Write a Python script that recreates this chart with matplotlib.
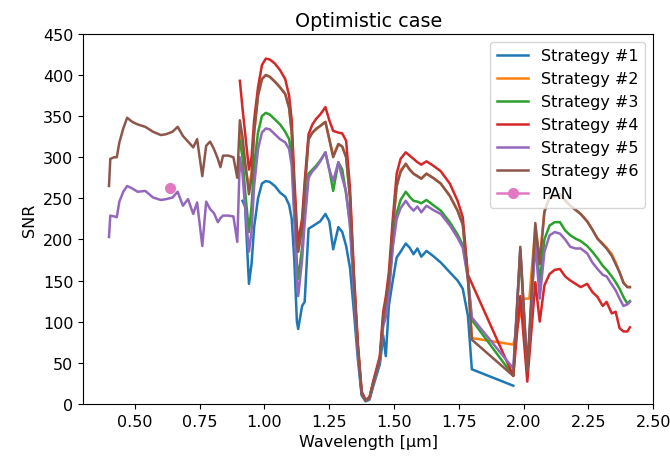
import numpy as np
import matplotlib
matplotlib.use("Agg")
import matplotlib.pyplot as plt

plt.rcParams["font.size"] = 11.5

N = np.nan

# VNIR wavelengths (only strategies #5 and #6 cover them)
wl_vnir = [0.400, 0.405, 0.420, 0.430, 0.440, 0.455, 0.470, 0.490, 0.510, 0.540,
           0.570, 0.600, 0.620, 0.645, 0.665, 0.685, 0.705, 0.725, 0.740, 0.760,
           0.775, 0.790, 0.805, 0.820, 0.830, 0.840, 0.860, 0.880, 0.895]
s5_vnir = [203, 229, 228, 227, 246, 258, 265, 262, 258, 259,
           251, 248, 249, 251, 258, 241, 249, 231, 245, 192,
           246, 237, 232, 221, 226, 229, 229, 228, 197]
s6_vnir = [265, 298, 300, 300, 318, 335, 348, 343, 340, 337,
           331, 327, 328, 331, 337, 326, 319, 312, 322, 277,
           314, 319, 310, 298, 288, 302, 302, 300, 275]

# SWIR wavelengths
wl_swir = [0.905, 0.915, 0.925, 0.940, 0.950, 0.960, 0.975, 0.990, 1.005, 1.020,
           1.040, 1.060, 1.080, 1.095, 1.105, 1.115, 1.125, 1.130, 1.145, 1.155,
           1.170, 1.185, 1.200, 1.215, 1.235, 1.250, 1.265, 1.285, 1.300, 1.315,
           1.330, 1.345, 1.360, 1.375, 1.390, 1.405, 1.420, 1.445, 1.458, 1.468,
           1.480, 1.495, 1.510, 1.525, 1.545, 1.560, 1.575, 1.590, 1.605, 1.625,
           1.650, 1.680, 1.715, 1.745, 1.765, 1.785, 1.800,
           1.960, 1.987, 2.000, 2.014, 2.022, 2.045, 2.062, 2.080, 2.100, 2.120,
           2.140, 2.160, 2.180, 2.200, 2.220, 2.245, 2.265, 2.285, 2.305, 2.320,
           2.340, 2.355, 2.370, 2.385, 2.400, 2.410]

s1 = [N, 247, 240, 146, 170, 215, 250, 268, 271, 270,
      265, 257, 252, 242, 225, 175, 100, 91, 119, 124,
      213, 216, 219, 222, 231, 222, 188, 215, 209, 192,
      165, 112, 55, 10, 3, 5, 22, 48, 83, 58,
      120, 150, 178, 185, 195, 190, 182, 189, 179, 186,
      180, 172, 160, 150, 140, 107, 42,
      22, N, N, N, N, N, N, N, N, N,
      N, N, N, N, N, N, N, N, N, N,
      N, N, N, N, N, N]
s2 = [330, 310, 290, 265, 280, 330, 375, 395, 400, 398,
      392, 385, 377, 360, 330, 260, 200, 185, 215, 260,
      322, 330, 334, 338, 343, 322, 302, 316, 313, 300,
      250, 150, 70, 12, 4, 7, 26, 55, 105, 125,
      150, 215, 265, 284, 292, 285, 280, 277, 274, 280,
      275, 268, 253, 235, 218, 152, 80,
      72, N, 128, N, 128, 215, 175, 235, 250, 252,
      254, 247, 241, 236, 231, 222, 212, 201, 195, 190,
      182, 172, 160, 148, 142, 142]
s3 = [320, 300, 260, 209, 240, 290, 330, 350, 354, 352,
      346, 340, 331, 322, 300, 240, 170, 152, 190, 230,
      280, 285, 290, 296, 306, 285, 259, 294, 285, 255,
      220, 140, 65, 12, 4, 6, 25, 52, 98, 110,
      140, 195, 232, 248, 258, 252, 247, 246, 244, 248,
      242, 235, 221, 206, 193, 156, 102,
      34, 185, N, 35, N, 205, 148, 200, 217, 221,
      221, 211, 205, 201, 198, 192, 185, 177, 168, 163,
      155, 148, 140, 130, 122, 125]
s4 = [393, 360, 330, 285, 300, 345, 385, 412, 420, 419,
      414, 406, 395, 375, 345, 275, 215, 197, 225, 270,
      328, 340, 347, 352, 361, 345, 332, 330, 329, 320,
      262, 160, 75, 15, 5, 8, 28, 58, 112, 130,
      160, 225, 280, 298, 306, 302, 298, 294, 291, 295,
      290, 283, 268, 247, 227, 157, N,
      34, 131, N, 27, N, 148, 100, 144, 158, 163,
      164, 155, 150, 146, 142, 146, 136, 130, 119, 124,
      110, 112, 92, 88, 88, 93]
s5_swir = [300, 280, 240, 185, 210, 265, 310, 330, 335, 334,
           328, 322, 318, 310, 290, 225, 150, 131, 175, 220,
           275, 283, 288, 295, 306, 285, 271, 294, 275, 258,
           215, 135, 62, 12, 4, 6, 25, 52, 95, 105,
           135, 190, 225, 238, 247, 240, 235, 240, 233, 241,
           236, 231, 217, 202, 190, 152, 105,
           43, 188, N, 43, N, 195, 128, 185, 205, 209,
           207, 200, 191, 189, 189, 183, 172, 164, 157, 155,
           145, 138, 128, 119, 121, 124]
s6_swir = [345, 325, 295, 255, 275, 330, 375, 395, 400, 398,
           392, 385, 377, 360, 330, 260, 195, 185, 215, 260,
           322, 330, 335, 338, 343, 322, 300, 316, 313, 300,
           250, 150, 70, 12, 4, 7, 26, 55, 105, 125,
           150, 215, 265, 282, 292, 285, 280, 277, 274, 280,
           275, 268, 253, 235, 218, 152, 78,
           34, 191, N, 40, N, 220, 170, 233, 252, 253,
           255, 248, 241, 236, 231, 222, 212, 201, 194, 189,
           180, 170, 160, 147, 142, 142]

pan_wl = [0.635]
pan_snr = [263]

labels = ["Strategy #1", "Strategy #2", "Strategy #3", "Strategy #4",
          "Strategy #5", "Strategy #6"]

fig = plt.figure(figsize=(6.7, 4.6), dpi=100)
ax = fig.add_axes([0.124, 0.12, 0.851, 0.804])

wl_v = np.array(wl_vnir, dtype=float)
wl_s = np.array(wl_swir, dtype=float)
series = [
    (wl_s, s1),
    (wl_s, s2),
    (wl_s, s3),
    (wl_s, s4),
    (np.concatenate([wl_v, wl_s]), list(s5_vnir) + list(s5_swir)),
    (np.concatenate([wl_v, wl_s]), list(s6_vnir) + list(s6_swir)),
]
for i, ((x, y), lab) in enumerate(zip(series, labels)):
    y = np.array(y, dtype=float)
    m = ~np.isnan(y)
    ax.plot(x[m], y[m], color=f"C{i}", lw=1.8, label=lab)

ax.plot(pan_wl, pan_snr, "o-", color="C6", lw=1.8, ms=7, label="PAN")

ax.set_xlim(0.3, 2.5)
ax.set_ylim(0, 450)
ax.set_xticks([0.5, 0.75, 1.0, 1.25, 1.5, 1.75, 2.0, 2.25, 2.5])
ax.set_xlabel("Wavelength [μm]")
ax.set_ylabel("SNR")
ax.set_title("Optimistic case")
ax.legend(loc="upper right")

fig.savefig("out.png", dpi=100)
